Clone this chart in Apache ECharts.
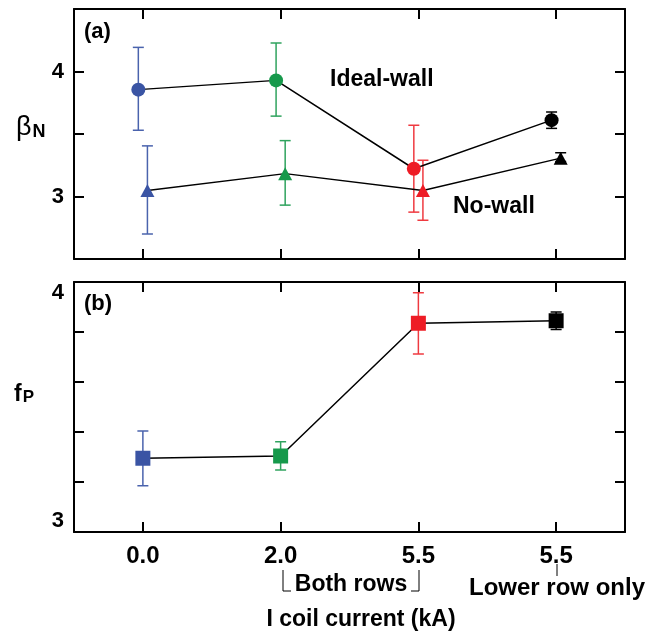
<!DOCTYPE html>
<html><head><meta charset="utf-8">
<script src="https://cdn.jsdelivr.net/npm/echarts@6/dist/echarts.min.js"></script>
<style>html,body{margin:0;padding:0;background:#fff}#c{width:660px;height:635px}</style>
</head><body><div id="c"></div>
<script>
// ---- data ----
const categories = ['0.0', '2.0', '5.5', '5.5'];
const pointColors = ['#3a54a4', '#16994b', '#ee1c25', '#000000'];
const barColors = ['#4a63ad', '#2fa35e', '#ef3a40', '#000000'];

const idealWall     = [3.855, 3.929, 3.222, 3.611];
const idealWallLow  = [3.530, 3.643, 2.875, 3.545];
const idealWallHigh = [4.193, 4.228, 3.570, 3.676];

const noWall     = [3.048, 3.183, 3.048, 3.307];
const noWallLow  = [2.700, 2.931, 2.810, 3.280];
const noWallHigh = [3.405, 3.447, 3.290, 3.350];

const fP     = [3.295, 3.304, 3.835, 3.845];
const fPLow  = [3.185, 3.248, 3.712, 3.810];
const fPHigh = [3.404, 3.361, 3.957, 3.880];

const betaLabels = [3, 4];
const fPLabels = [3, 4];

// ---- style ----
const FONT = "'Liberation Sans Narrow','Arial Narrow','Liberation Sans',sans-serif";
const DODGE = 0.033;
const tickPos = categories.map((c, i) => i);

const chart = echarts.init(document.getElementById('c'), null, {renderer: 'canvas'});

function errRender(colors) {
  return function (params, api) {
    const x = api.value(0), lo = api.value(1), hi = api.value(2);
    const pLo = api.coord([x, lo]), pHi = api.coord([x, hi]);
    const col = colors[params.dataIndex];
    const w = 5.5;
    const style = {stroke: col, lineWidth: 1.5};
    return {type: 'group', children: [
      {type: 'line', shape: {x1: pLo[0], y1: pLo[1], x2: pHi[0], y2: pHi[1]}, style},
      {type: 'line', shape: {x1: pLo[0] - w, y1: pLo[1], x2: pLo[0] + w, y2: pLo[1]}, style},
      {type: 'line', shape: {x1: pHi[0] - w, y1: pHi[1], x2: pHi[0] + w, y2: pHi[1]}, style}
    ]};
  };
}

const axisLine = {show: true, onZero: false, lineStyle: {color: '#000', width: 2}};
const tickStyle = {show: true, inside: true, length: 10, lineStyle: {color: '#000', width: 2}};

function xAx(grid, pos, labels) {
  return {
    type: 'value', gridIndex: grid, position: pos, min: -0.5, max: 3.5,
    axisLine, splitLine: {show: false},
    axisTick: Object.assign({customValues: tickPos}, tickStyle),
    axisLabel: labels ? {
      show: true, customValues: tickPos, margin: 12,
      formatter: v => categories[Math.round(v)],
      fontFamily: FONT, fontWeight: 'bold', fontSize: 24, color: '#000'
    } : {show: false}
  };
}
function yAx(grid, pos, min, max, interval, labels, edge) {
  const lab = labels ? Object.assign({
    show: true, margin: 10,
    formatter: v => labels.some(l => Math.abs(l - v) < 1e-6) ? String(Math.round(v)) : '',
    fontFamily: FONT, fontWeight: 'bold', fontSize: 22, color: '#000'
  }, edge ? {verticalAlignMinLabel: 'bottom', verticalAlignMaxLabel: 'top'} : {}) : {show: false};
  return {
    type: 'value', gridIndex: grid, position: pos, min, max, interval,
    axisLine, splitLine: {show: false}, axisTick: tickStyle, axisLabel: lab
  };
}

const topY = 9, panelH = 250, gap = 23;

chart.setOption({
  animation: false,
  backgroundColor: '#fff',
  grid: [
    {left: 74, right: 35, top: topY, height: panelH},
    {left: 74, right: 35, top: topY + panelH + gap, height: panelH}
  ],
  xAxis: [
    xAx(0, 'bottom', false), xAx(0, 'top', false),
    xAx(1, 'bottom', true), xAx(1, 'top', false)
  ],
  yAxis: [
    yAx(0, 'left', 2.5, 4.5, 0.5, betaLabels, false), yAx(0, 'right', 2.5, 4.5, 0.5, null, false),
    yAx(1, 'left', 3, 4, 0.2, fPLabels, true), yAx(1, 'right', 3, 4, 0.2, null, false)
  ],
  series: [
    {type: 'custom', xAxisIndex: 0, yAxisIndex: 0, z: 1, renderItem: errRender(barColors),
     encode: {x: 0, y: [1, 2]},
     data: idealWall.map((v, i) => [i - DODGE, idealWallLow[i], idealWallHigh[i]])},
    {type: 'custom', xAxisIndex: 0, yAxisIndex: 0, z: 1, renderItem: errRender(barColors),
     encode: {x: 0, y: [1, 2]},
     data: noWall.map((v, i) => [i + DODGE, noWallLow[i], noWallHigh[i]])},
    {type: 'custom', xAxisIndex: 2, yAxisIndex: 2, z: 1, renderItem: errRender(barColors),
     encode: {x: 0, y: [1, 2]},
     data: fP.map((v, i) => [i, fPLow[i], fPHigh[i]])},
    {type: 'line', xAxisIndex: 0, yAxisIndex: 0, z: 3, symbol: 'circle', symbolSize: 14,
     lineStyle: {color: '#000', width: 1.5},
     data: idealWall.map((v, i) => ({value: [i - DODGE, v], itemStyle: {color: pointColors[i]}}))},
    {type: 'line', xAxisIndex: 0, yAxisIndex: 0, z: 3, symbol: 'triangle', symbolSize: [14, 13],
     lineStyle: {color: '#000', width: 1.5},
     data: noWall.map((v, i) => ({value: [i + DODGE, v], itemStyle: {color: pointColors[i]}}))},
    {type: 'line', xAxisIndex: 2, yAxisIndex: 2, z: 3, symbol: 'rect', symbolSize: 15,
     lineStyle: {color: '#000', width: 1.5},
     data: fP.map((v, i) => ({value: [i, v], itemStyle: {color: pointColors[i]}}))}
  ],
  graphic: [
    {type: 'text', left: 84, top: 21, style: {text: '(a)', font: `bold 22px ${FONT}`, fill: '#000'}},
    {type: 'text', left: 84, top: 293, style: {text: '(b)', font: `bold 22px ${FONT}`, fill: '#000'}},
    {type: 'text', left: 330, top: 68, style: {text: 'Ideal-wall', font: `bold 23px ${FONT}`, fill: '#000'}},
    {type: 'text', left: 453, top: 195, style: {text: 'No-wall', font: `bold 23px ${FONT}`, fill: '#000'}},
    {type: 'text', left: 16, top: 114, style: {
      text: '{b|β}{n|N}', rich: {
        b: {font: `27px ${FONT}`, fill: '#000', verticalAlign: 'bottom'},
        n: {font: `bold 18px ${FONT}`, fill: '#000', verticalAlign: 'bottom', padding: [0, 0, 0, 1]}
      }}},
    {type: 'text', left: 14, top: 383, style: {
      text: '{f|f}{p|P}', rich: {
        f: {font: `bold 23px ${FONT}`, fill: '#000', verticalAlign: 'bottom'},
        p: {font: `bold 17px ${FONT}`, fill: '#000', verticalAlign: 'bottom', padding: [0, 0, 0, 1]}
      }}},
    {type: 'polyline', shape: {points: [[283, 570], [283, 591], [291, 591]]}, style: {stroke: '#000', lineWidth: 1, fill: null}},
    {type: 'polyline', shape: {points: [[411, 591], [419, 591], [419, 570]]}, style: {stroke: '#000', lineWidth: 1, fill: null}},
    {type: 'text', x: 351, y: 573, style: {text: 'Both rows', font: `bold 23px ${FONT}`, fill: '#000', align: 'center', verticalAlign: 'top'}},
    {type: 'line', shape: {x1: 557, y1: 564, x2: 557, y2: 576}, style: {stroke: '#000', lineWidth: 1}},
    {type: 'text', x: 557, y: 576, style: {text: 'Lower row only', font: `bold 24px ${FONT}`, fill: '#000', align: 'center', verticalAlign: 'top'}},
    {type: 'text', x: 361, y: 608, style: {text: 'I coil current (kA)', font: `bold 23px ${FONT}`, fill: '#000', align: 'center', verticalAlign: 'top'}}
  ]
});
</script>
</body></html>
